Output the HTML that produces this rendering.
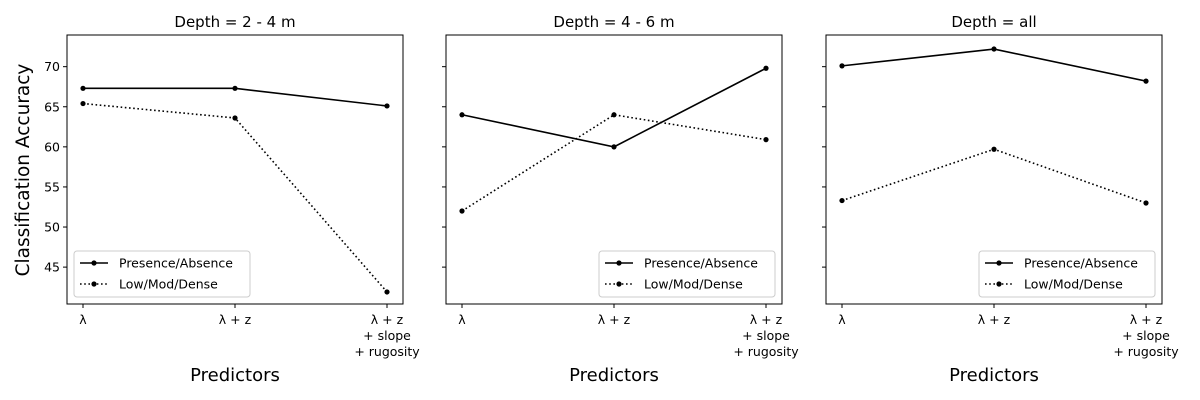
<!DOCTYPE html>
<html><head><meta charset="utf-8"><style>
html,body{margin:0;padding:0;background:#fff;}
svg{display:block;font-family:"DejaVu Sans","Liberation Sans",sans-serif;}
</style></head><body>
<svg id="chart" width="1200" height="400" xmlns="http://www.w3.org/2000/svg"></svg>
<script>
const categories = ["λ", "λ + z", "λ + z|+ slope|+ rugosity"];
const panelTitles = ["Depth = 2 - 4 m", "Depth = 4 - 6 m", "Depth = all"];
const presenceAbsence = [[67.3, 67.3, 65.1], [64.0, 60.0, 69.8], [70.1, 72.2, 68.2]];
const lowModDense = [[65.4, 63.6, 41.9], [52.0, 64.0, 60.9], [53.3, 59.7, 53.0]];
const yTicks = [45, 50, 55, 60, 65, 70];
const seriesNames = ["Presence/Absence", "Low/Mod/Dense"];

const NS = "http://www.w3.org/2000/svg";
const svgEl = document.getElementById("chart");
function mk(tag, attrs, parent) {
  const e = document.createElementNS(NS, tag);
  for (const k in attrs) e.setAttribute(k, attrs[k]);
  (parent || svgEl).appendChild(e);
  return e;
}
const panelsX = [67, 446, 826];
const pw = 336, plotTop = 35, plotBottom = 304;
const yMin = 40.4, yMax = 73.95;
function yScale(v) { return plotBottom - (v - yMin) / (yMax - yMin) * (plotBottom - plotTop); }

panelsX.forEach((px, p) => {
  const g = mk("g", {});
  
  
  function xScale(i) { return px + 16 + i * (pw - 32) / (categories.length - 1); }
  const frame = mk("rect", {x: px, y: plotTop, width: pw, height: plotBottom - plotTop, fill: "none", stroke: "#000", "stroke-width": 1}, g);
  
  
  const t = mk("text", {x: px + pw / 2, y: 27, "text-anchor": "middle", "font-size": 15}, g);
  t.textContent = panelTitles[p];
  
  
  yTicks.forEach(v => {
    const y = yScale(v);
    mk("line", {x1: px - 4, x2: px, y1: y, y2: y, stroke: "#000"}, g);
    if (p === 0) {
      const tl = mk("text", {x: px - 7, y: y + 4.5, "text-anchor": "end", "font-size": 12.5}, g);
      tl.textContent = v;
      
      
    }
  });
  categories.forEach((c, i) => {
    const x = xScale(i);
    mk("line", {x1: x, x2: x, y1: plotBottom, y2: plotBottom + 4, stroke: "#000"}, g);
    c.split("|").forEach((ln, j) => {
      const tl = mk("text", {x: x, y: plotBottom + 20 + j * 16, "text-anchor": "middle", "font-size": 12.5}, g);
      tl.textContent = ln;
      
      
    });
  });
  const xt = mk("text", {x: px + pw / 2, y: 381, "text-anchor": "middle", "font-size": 18}, g);
  xt.textContent = "Predictors";
  
  
  [presenceAbsence[p], lowModDense[p]].forEach((vals, s) => {
    const pts = vals.map((v, i) => xScale(i) + "," + yScale(v)).join(" ");
    const line = mk("polyline", {points: pts, fill: "none", stroke: "#000", "stroke-width": 1.6, "stroke-dasharray": s ? "1.6,2.6" : "none"}, g);
    
    
    vals.forEach((v, i) => {
      const c = mk("circle", {cx: xScale(i), cy: yScale(v), r: 2.6, fill: "#000"}, g);
      
      
    });
  });
  const lx = p === 0 ? px + 7 : px + pw - 183, ly = 251, lw = 176;
  const lg = mk("g", {}, g);
  
  
  mk("rect", {x: lx, y: ly, width: lw, height: 46, rx: 3, fill: "#fff", stroke: "#ccc"}, lg);
  seriesNames.forEach((n, s) => {
    const yy = ly + 12 + s * 21;
    mk("line", {x1: lx + 6, x2: lx + 34, y1: yy, y2: yy, stroke: "#000", "stroke-width": 1.6, "stroke-dasharray": s ? "1.6,2.6" : "none"}, lg);
    mk("circle", {cx: lx + 20, cy: yy, r: 2.6, fill: "#000"}, lg);
    const tx = mk("text", {x: lx + 45, y: yy + 4.5, "font-size": 12.5}, lg);
    tx.textContent = n;
    
    
  });
});
const yt = mk("text", {x: 0, y: 0, "text-anchor": "middle", "font-size": 18.5, transform: "translate(29,170) rotate(-90)"});
yt.textContent = "Classification Accuracy";


</script>
</body></html>
